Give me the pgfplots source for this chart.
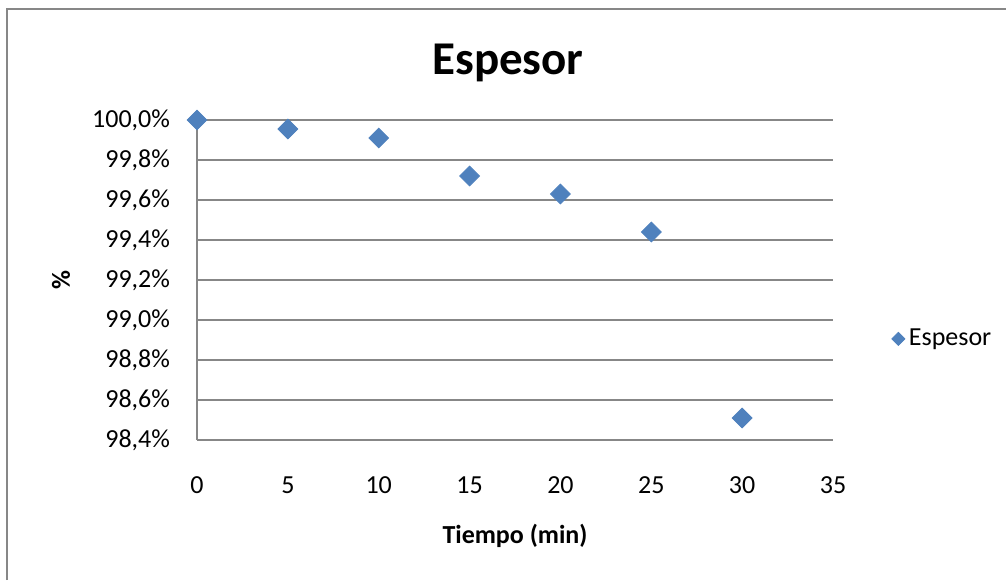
\documentclass[border=0pt]{standalone}
\usepackage{fontspec}
\setmainfont{Carlito}
\usepackage{pgfplots}
\pgfplotsset{compat=1.18}
\definecolor{excelblue}{HTML}{4F81BD}
\definecolor{gridgray}{HTML}{878787}

\begin{document}
\begin{tikzpicture}
\begin{scope}[x=0.5pt,y=0.5pt]
  \path[use as bounding box] (0,0) rectangle (1006,580);
  % chart frame (cut at right and bottom)
  \draw[gridgray, line width=0.8pt] (7,0) -- (7,571) -- (1006,571);
  \node[anchor=base, font=\fontsize{23.5}{28}\selectfont\bfseries] at (508,506) {Espesor};
  \node[rotate=90, font=\fontsize{13}{15}\selectfont\bfseries] at (61,300) {\%};
  \node[anchor=base, font=\fontsize{13}{15}\selectfont\bfseries] at (515,37) {Tiempo (min)};
\end{scope}

\begin{axis}[
  at={(98.5pt,70pt)}, anchor=south west,
  scale only axis, width=318pt, height=160pt,
  xmin=0, xmax=35, ymin=98.4, ymax=100,
  xtick={0,5,...,35},
  ytick={98.4,98.6,98.8,99.0,99.2,99.4,99.6,99.8,100.0},
  yticklabel={\pgfmathprintnumber[fixed,fixed zerofill,precision=1,use comma]{\tick}\%},
  /pgf/number format/assume math mode=true,
  axis x line*=bottom, axis y line*=left,
  axis line style={gridgray, line width=0.65pt},
  ymajorgrids, grid style={gridgray, line width=0.65pt},
  major tick length=0pt,
  tick label style={font=\fontsize{13}{15}\selectfont, black},
  xticklabel style={yshift=-15pt},
  yticklabel style={xshift=-10pt},
  clip=false,
  legend style={draw=none, fill=none, at={(1.092,0.316)}, anchor=west,
    font=\fontsize{13}{15}\selectfont, inner sep=0pt},
  legend image code/.code={%
    \draw[mark=square*, mark size=2.3pt, mark options={rotate=45, fill=excelblue, draw=excelblue}]
      plot coordinates {(0.1cm,0cm)};},
]
\addplot[only marks, mark=square*, mark size=3.5pt,
  mark options={rotate=45, fill=excelblue, draw=excelblue}]
  coordinates {
  (0,100.0) (5,99.955) (10,99.91) (15,99.72) (20,99.63) (25,99.44) (30,98.51)
};
\addlegendentry{Espesor}
\end{axis}
\end{tikzpicture}
\end{document}
